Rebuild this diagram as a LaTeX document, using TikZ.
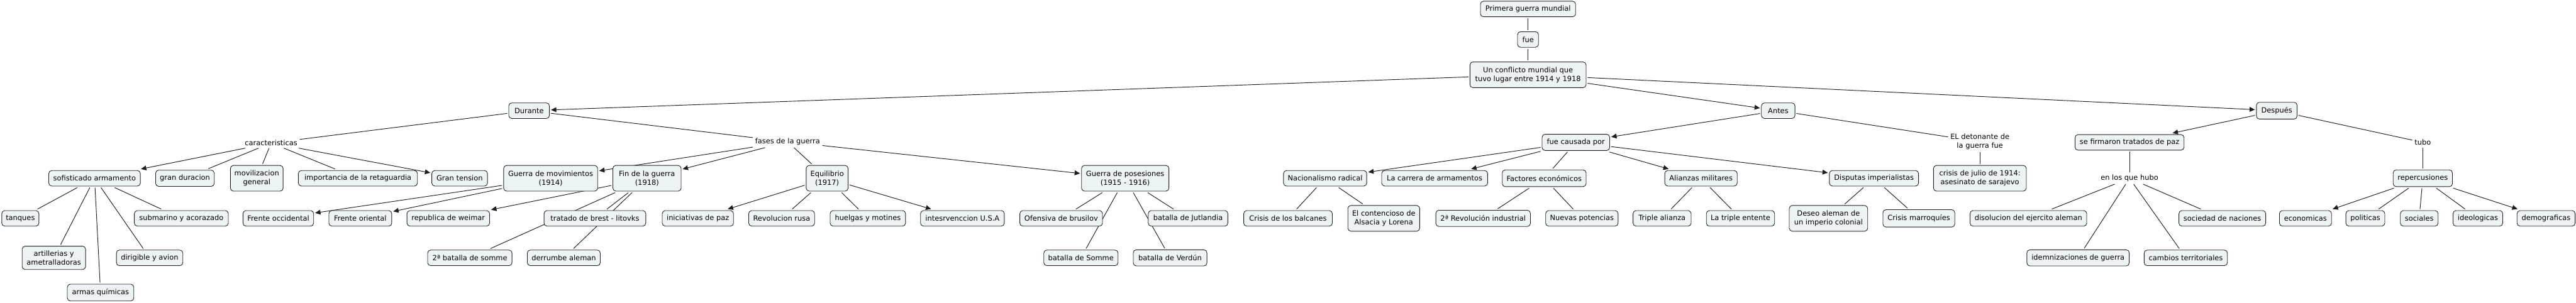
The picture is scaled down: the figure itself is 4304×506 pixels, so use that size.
\documentclass[tikz,border=0pt]{standalone}
\usepackage{fontspec}
\setmainfont{DejaVu Sans}
\usetikzlibrary{arrows.meta}
\pgfdeclarelayer{background}
\pgfsetlayers{background,main}
\definecolor{boxfill}{RGB}{237,243,245}
\definecolor{edgecol}{RGB}{30,30,30}
\begin{document}
\begin{tikzpicture}[x=1pt,y=-1pt,
  font=\fontsize{12}{14.5}\selectfont,
  box/.style={draw=edgecol, fill=boxfill, rounded corners=5pt, line width=0.9pt,
    minimum height=26pt, inner xsep=5pt, inner ysep=3pt, align=center, outer sep=2.5pt},
  tall/.style={minimum height=43pt},
  lbl/.style={inner sep=2pt, outer sep=2pt, align=center, fill=white},
  ln/.style={draw=edgecol, line width=1pt},
  ar/.style={ln, -{Triangle[length=9pt,width=8pt]}}]
\useasboundingbox (0,0) rectangle (4304,506);
% top
\node[box, minimum width=159] (pgm) at (2553,15) {Primera guerra mundial};
\node[box, minimum width=35] (fue) at (2553,66) {fue};
\node[box, tall, minimum width=194] (conf) at (2553,125) {Un conflicto mundial que\\tuvo lugar entre 1914 y 1918};
\node[box, minimum width=68] (durante) at (884,185) {Durante};
\node[box, minimum width=56] (antes) at (2971,185) {Antes};
\node[box, minimum width=68, minimum height=28pt] (despues) at (3804,185) {Después};
% durante
\node[lbl] (carac) at (453,239) {caracteristicas};
\node[lbl] (fases) at (1316,237) {fases de la guerra};
\node[box, minimum width=153] (sof) at (158,298) {sofisticado armamento};
\node[box, minimum width=98, minimum height=27pt] (gdur) at (309,298) {gran duracion};
\node[box, tall, minimum width=88] (movil) at (429,298) {movilizacion\\general};
\node[box, minimum width=199] (impret) at (598,298) {importancia de la retaguardia};
\node[box, minimum width=93] (gten) at (768,298) {Gran tension};
\node[box, minimum width=62] (tanq) at (34,365) {tanques};
\node[box, minimum width=157] (subm) at (303,365) {submarino y acorazado};
\node[box, minimum width=106, minimum height=39pt] (artil) at (90,431) {artillerias y\\ametralladoras};
\node[box, minimum width=111] (dirig) at (250,431) {dirigible y avion};
\node[box, minimum width=111, minimum height=28pt] (armas) at (168,489) {armas químicas};
\node[box, minimum width=118] (focc) at (465,365) {Frente occidental};
\node[box, minimum width=105] (fori) at (602,365) {Frente oriental};
\node[box, minimum width=138] (weim) at (749,365) {republica de weimar};
\node[box, minimum width=141] (somme2) at (785,431) {2ª batalla de somme};
\node[box, tall, minimum width=157] (gmov) at (920,298) {Guerra de movimientos\\(1914)};
\node[box, tall, minimum width=114] (fin) at (1081,298) {Fin de la guerra\\(1918)};
\node[box, tall, minimum width=70] (equi) at (1382,298) {Equilibrio\\(1917)};
\node[box, minimum width=170] (brest) at (994,365) {tratado de brest - litovks};
\node[box, minimum width=122] (derr) at (942,431) {derrumbe aleman};
\node[box, minimum width=119] (inic) at (1166,365) {iniciativas de paz};
\node[box, minimum width=110] (revr) at (1306,365) {Revolucion rusa};
\node[box, minimum width=126] (huel) at (1450,365) {huelgas y motines};
\node[box, minimum width=140] (usa) at (1608,365) {intesrvenccion U.S.A};
\node[box, tall, minimum width=146] (gpos) at (1880,298) {Guerra de posesiones\\(1915 - 1916)};
\node[box, minimum width=138] (brus) at (1773,365) {Ofensiva de brusilov};
\node[box, minimum width=133] (jutl) at (1985,365) {batalla de Jutlandia};
\node[box, minimum width=124] (bsom) at (1806,431) {batalla de Somme};
\node[box, minimum width=123, minimum height=27pt] (verd) at (1955,431) {batalla de Verdún};
% antes
\node[box, minimum width=113, minimum height=27pt] (causa) at (2633,238) {fue causada por};
\node[box, minimum width=139] (nac) at (2214,298) {Nacionalismo radical};
\node[box, minimum width=148] (balc) at (2152,365) {Crisis de los balcanes};
\node[box, tall, minimum width=120] (alsa) at (2312,365) {El contencioso de\\Alsacia y Lorena};
\node[box, minimum width=177] (carr) at (2397,298) {La carrera de armamentos};
\node[box, minimum width=140, minimum height=28pt] (fact) at (2580,298) {Factores económicos};
\node[box, minimum width=158, minimum height=27pt] (rev2) at (2478,365) {2ª Revolución industrial};
\node[box, minimum width=121] (nuev) at (2643,365) {Nuevas potencias};
\node[box, minimum width=121] (alian) at (2842,298) {Alianzas militares};
\node[box, minimum width=97] (trip) at (2777,365) {Triple alianza};
\node[box, minimum width=114] (tent) at (2908,365) {La triple entente};
\node[box, minimum width=149] (disp) at (3131,298) {Disputas imperialistas};
\node[box, tall, minimum width=131] (deseo) at (3055,365) {Deseo aleman de\\un imperio colonial};
\node[box, minimum width=120, minimum height=29pt] (marr) at (3206,365) {Crisis marroquíes};
\node[lbl] (deton) at (3308,237) {EL detonante de\\la guerra fue};
\node[box, tall, minimum width=155] (julio) at (3308,298) {crisis de julio de 1914:\\asesinato de sarajevo};
% despues
\node[box, minimum width=182] (firm) at (3558,238) {se firmaron tratados de paz};
\node[lbl] (hubo) at (3558,298) {en los que hubo};
\node[box, minimum width=195] (disol) at (3389,365) {disolucion del ejercito aleman};
\node[box, minimum width=171, minimum height=27pt] (idem) at (3472,431) {idemnizaciones de guerra};
\node[box, minimum width=139] (camb) at (3652,431) {cambios territoriales};
\node[box, minimum width=145] (soc) at (3713,365) {sociedad de naciones};
\node[lbl] (tubo) at (4048,238) {tubo};
\node[box, minimum width=99, minimum height=28pt] (rep) at (4048,298) {repercusiones};
\node[box, minimum width=87] (eco) at (3852,365) {economicas};
\node[box, minimum width=65] (pol) at (3952,365) {politicas};
\node[box, minimum width=63] (socs) at (4042,365) {sociales};
\node[box, minimum width=83] (ideo) at (4140,365) {ideologicas};
\node[box, minimum width=97] (demo) at (4254,365) {demograficas};

\begin{pgfonlayer}{background}
\draw[ln] (pgm) -- (fue);
\draw[ln] (fue) -- (conf);
\draw[ar] (conf) -- (durante);
\draw[ar] (conf) -- (antes);
\draw[ar] (conf) -- (despues);
\draw[ln] (durante) -- (carac);
\draw[ln] (durante) -- (fases);
\draw[ar] (carac) -- (sof);
\draw[ln] (carac) -- (gdur);
\draw[ln] (carac) -- (movil);
\draw[ln] (carac) -- (impret);
\draw[ar] (carac) -- (gten);
\foreach \t in {tanq,artil,armas,dirig,subm} \draw[ln] (sof) -- (\t);
\draw[ar] (fases) -- (gmov);
\draw[ar] (fases) -- (fin);
\draw[ln] (fases) -- (equi);
\draw[ar] (fases) -- (gpos);
\draw[ar] (gmov) -- (focc);
\draw[ar] (gmov) -- (fori);
\draw[ar] (fin) -- (weim);
\draw[ln] (fin) -- (brest);
\draw[ln] (fin) -- (somme2);
\draw[ln] (fin) -- (derr);
\draw[ar] (equi) -- (inic);
\draw[ln] (equi) -- (revr);
\draw[ln] (equi) -- (huel);
\draw[ar] (equi) -- (usa);
\foreach \t in {brus,bsom,verd,jutl} \draw[ln] (gpos) -- (\t);
\draw[ar] (antes) -- (causa);
\draw[ln] (antes) -- (deton);
\draw[ln] (deton) -- (julio);
\draw[ar] (causa) -- (nac);
\draw[ar] (causa) -- (carr);
\draw[ln] (causa) -- (fact);
\draw[ar] (causa) -- (alian);
\draw[ar] (causa) -- (disp);
\draw[ln] (nac) -- (balc);
\draw[ln] (nac) -- (alsa);
\draw[ln] (fact) -- (rev2);
\draw[ln] (fact) -- (nuev);
\draw[ln] (alian) -- (trip);
\draw[ln] (alian) -- (tent);
\draw[ln] (disp) -- (deseo);
\draw[ln] (disp) -- (marr);
\draw[ar] (despues) -- (firm);
\draw[ln] (despues) -- (tubo);
\draw[ln] (tubo) -- (rep);
\draw[ln] (firm) -- (hubo);
\foreach \t in {disol,idem,camb,soc} \draw[ln] (hubo) -- (\t);
\draw[ar] (rep) -- (eco);
\draw[ln] (rep) -- (pol);
\draw[ln] (rep) -- (socs);
\draw[ln] (rep) -- (ideo);
\draw[ar] (rep) -- (demo);
\end{pgfonlayer}
\end{tikzpicture}
\end{document}
